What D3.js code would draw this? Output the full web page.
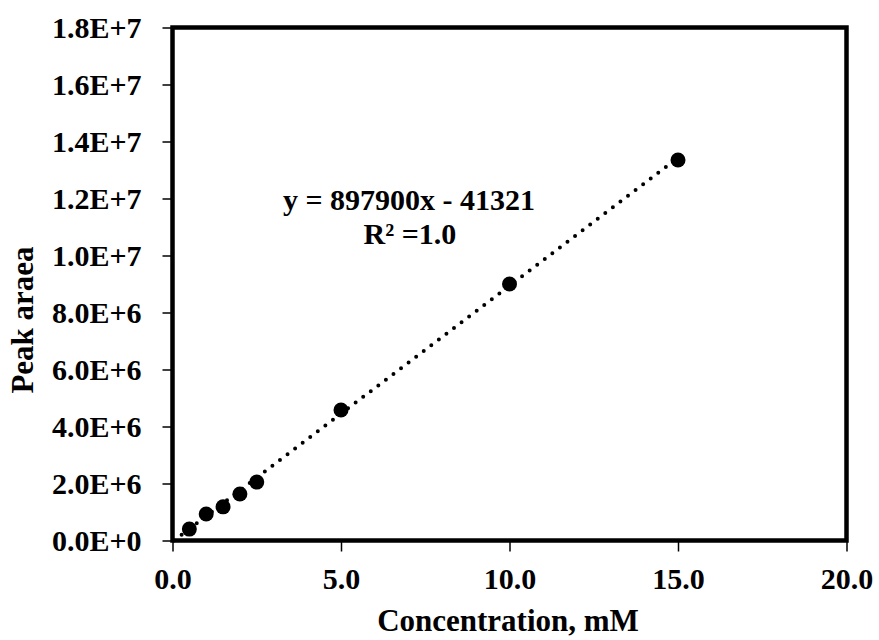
<!DOCTYPE html>
<html><head><meta charset="utf-8">
<script src="https://cdn.jsdelivr.net/npm/d3@7"></script>
<style>body{margin:0;background:#fff}svg{display:block}</style>
</head><body>
<svg id="c" width="879" height="640"></svg>
<script>
const concentration = [0.5, 1.0, 1.5, 2.0, 2.5, 5.0, 10.0, 15.0];
const peakArea = [400000, 930000, 1180000, 1630000, 2050000, 4580000, 9000000, 13350000];
const slope = 897900, intercept = -41321;
const xTicks = [0, 5, 10, 15, 20];
const yTicks = [0, 2e6, 4e6, 6e6, 8e6, 1e7, 1.2e7, 1.4e7, 1.6e7, 1.8e7];
const eqText = "y = 897900x - 41321";
const r2Text = "R\u00B2 =1.0";

const svg = d3.select("#c");
const L = 172.5, R = 846.5, T = 27.5, B = 540.5;
const x = d3.scaleLinear().domain([0, 20]).range([L, R]);
const y = d3.scaleLinear().domain([0, 1.8e7]).range([B, T]);
const font = "'Liberation Serif','Times New Roman',serif";

const fmtY = v => {
  if (v === 0) return "0.0E+0";
  const e = Math.floor(Math.log10(v));
  return (v / Math.pow(10, e)).toFixed(1) + "E+" + e;
};

const xa = svg.append("g").attr("transform", `translate(0,${B})`)
  .call(d3.axisBottom(x).tickValues(xTicks).tickFormat(d3.format(".1f")).tickSize(11).tickPadding(16));
const ya = svg.append("g").attr("transform", `translate(${L},0)`)
  .call(d3.axisLeft(y).tickValues(yTicks).tickFormat(fmtY).tickSize(10).tickPadding(21));
[xa, ya].forEach(g => {
  g.select(".domain").remove();
  g.selectAll("line").attr("stroke", "#000").attr("stroke-width", 1.5);
  g.selectAll("text").attr("font-family", font).attr("font-weight", "bold")
    .attr("font-size", 30).attr("fill", "#000");
});

svg.append("rect").attr("x", L).attr("y", T).attr("width", R - L).attr("height", B - T)
  .attr("fill", "none").attr("stroke", "#000").attr("stroke-width", 4.5);

// trendline
const x0 = -intercept / slope, x1 = 15;
svg.append("line")
  .attr("x1", x(x0)).attr("y1", y(slope * x0 + intercept))
  .attr("x2", x(x1)).attr("y2", y(slope * x1 + intercept))
  .attr("stroke", "#000").attr("stroke-width", 4)
  .attr("stroke-linecap", "round").attr("stroke-dasharray", "0 9.5");

svg.append("g").selectAll("circle").data(concentration).join("circle")
  .attr("cx", d => x(d)).attr("cy", (d, i) => y(peakArea[i])).attr("r", 7.5).attr("fill", "#000");

svg.append("text").attr("x", 409).attr("y", 210).attr("text-anchor", "middle")
  .attr("font-family", font).attr("font-weight", "bold").attr("font-size", 30).text(eqText);
svg.append("text").attr("x", 410).attr("y", 244).attr("text-anchor", "middle")
  .attr("font-family", font).attr("font-weight", "bold").attr("font-size", 30).text(r2Text);

svg.append("text").attr("x", 508).attr("y", 631).attr("text-anchor", "middle")
  .attr("font-family", font).attr("font-weight", "bold").attr("font-size", 31).text("Concentration, mM");
svg.append("text").attr("transform", `translate(33,320) rotate(-90)`).attr("text-anchor", "middle")
  .attr("font-family", font).attr("font-weight", "bold").attr("font-size", 31).text("Peak araea");
</script>
</body></html>
